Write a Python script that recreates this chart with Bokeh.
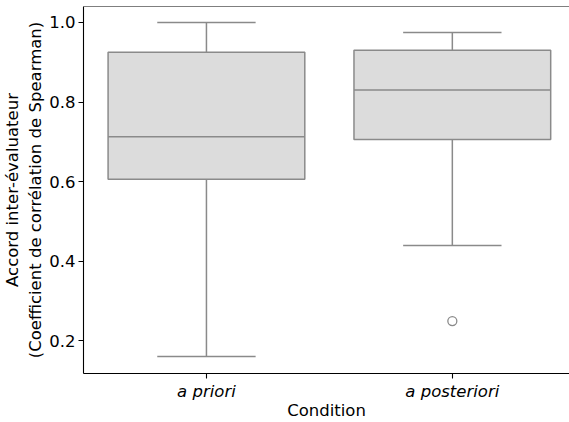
from bokeh.plotting import figure
from bokeh.models import ColumnDataSource, Range1d, FixedTicker, Span
from bokeh.embed import file_html
from bokeh.resources import INLINE

# Data
categories = ["a priori", "a posteriori"]
positions = [0, 1]
whisker_low = [0.161, 0.440]
q1 = [0.606, 0.706]
median = [0.713, 0.830]
q3 = [0.925, 0.930]
whisker_high = [1.0, 0.975]
outlier_pos = [1]
outlier_val = [0.250]
y_ticks = [0.2, 0.4, 0.6, 0.8, 1.0]

FILL = "#dcdcdc"
LINE = "#8a8a8a"
FONT = "DejaVu Sans"

box_w = 0.8
cap_w = 0.4

src = ColumnDataSource(dict(
    x=positions,
    lo=whisker_low, q1=q1, med=median, q3=q3, hi=whisker_high,
    bl=[p - box_w / 2 for p in positions], br=[p + box_w / 2 for p in positions],
    cl=[p - cap_w / 2 for p in positions], cr=[p + cap_w / 2 for p in positions],
))

y_top = 1.040
p = figure(width=569, height=422, output_backend="svg", toolbar_location=None,
           x_range=Range1d(-0.5, 1.4765), y_range=Range1d(0.1182, y_top),
           min_border_left=82, min_border_right=0, min_border_top=6, min_border_bottom=0)

# whiskers
p.segment(x0="x", y0="q3", x1="x", y1="hi", source=src, line_color=LINE, line_width=1.5)
p.segment(x0="x", y0="lo", x1="x", y1="q1", source=src, line_color=LINE, line_width=1.5)
p.segment(x0="cl", y0="hi", x1="cr", y1="hi", source=src, line_color=LINE, line_width=1.5)
p.segment(x0="cl", y0="lo", x1="cr", y1="lo", source=src, line_color=LINE, line_width=1.5)
# boxes
p.vbar(x="x", width=box_w, bottom="q1", top="q3", source=src,
       fill_color=FILL, line_color=LINE, line_width=1.5)
# medians
p.segment(x0="bl", y0="med", x1="br", y1="med", source=src, line_color=LINE, line_width=1.5)
# outliers
p.scatter(x=outlier_pos, y=outlier_val, size=9, marker="circle",
          fill_color=None, line_color=LINE, line_width=1.3)

p.xgrid.visible = False
p.ygrid.visible = False
p.outline_line_color = None
p.add_layout(Span(location=y_top, dimension="width", line_color="black", line_width=1.1))

p.xaxis.ticker = FixedTicker(ticks=positions)
p.xaxis.major_label_overrides = {pos: c for pos, c in zip(positions, categories)}
p.xaxis.major_label_text_font_style = "italic"
p.xaxis.axis_label = "Condition"

p.yaxis.ticker = FixedTicker(ticks=y_ticks)
p.yaxis.major_label_overrides = {t: f"{t:.1f}" for t in y_ticks}
p.yaxis.axis_label = "Accord inter-évaluateur\n(Coefficient de corrélation de Spearman)"

for ax in (p.xaxis[0], p.yaxis[0]):
    ax.axis_line_color = "black"
    ax.axis_line_width = 1.1
    ax.major_tick_line_color = "black"
    ax.major_tick_line_width = 1.1
    ax.major_tick_out = 5
    ax.major_tick_in = 0
    ax.minor_tick_line_color = None
    ax.major_label_text_font = FONT
    ax.major_label_text_font_size = "16.5px"
    ax.major_label_text_color = "black"
    ax.axis_label_text_font = FONT
    ax.axis_label_text_font_size = "16.5px"
    ax.axis_label_text_font_style = "normal"
    ax.axis_label_text_color = "black"

p.xaxis.major_label_standoff = 3
p.xaxis.axis_label_standoff = -3
p.yaxis.major_label_standoff = 3
p.yaxis.axis_label_standoff = 1

open("out.html", "w").write(file_html(p, INLINE))
